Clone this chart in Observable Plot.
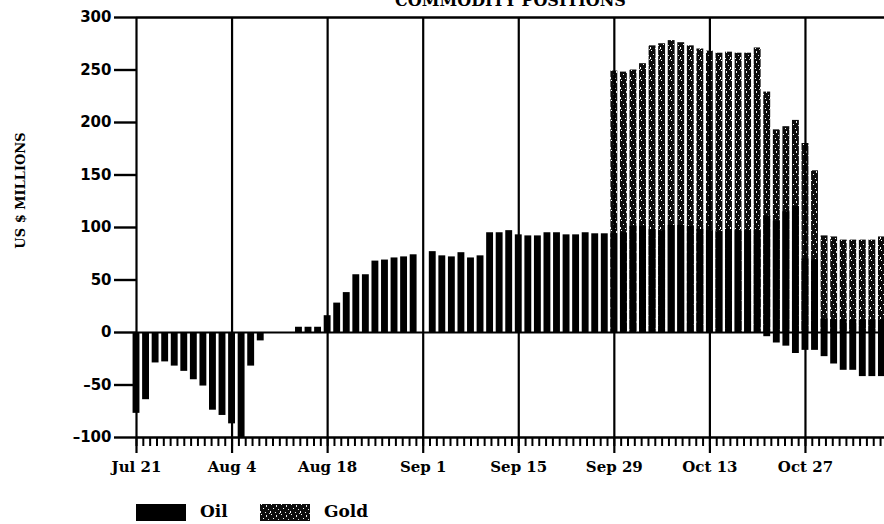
<!DOCTYPE html>
<html>
<head>
<meta charset="utf-8">
<script src="https://cdn.jsdelivr.net/npm/d3@7"></script>
<script src="https://cdn.jsdelivr.net/npm/@observablehq/plot@0.6"></script>
<style>
  html, body { margin: 0; padding: 0; background: #fff; }
  #chart { position: relative; width: 884px; }
  .legend { position: relative; height: 34px; width: 884px; font-family: "DejaVu Serif", serif; font-weight: bold; font-size: 17px; color: #000; }
  .legend .sw { position: absolute; top: 14px; height: 17px; width: 50px; }
  .legend .lab { position: absolute; top: 11px; line-height: 20px; }
</style>
</head>
<body>
<svg width="0" height="0" style="position:absolute">
  <defs>
    <pattern id="stipple" patternUnits="userSpaceOnUse" width="10" height="10">
      <rect width="10" height="10" fill="#0d0d0d"/>
      <rect x="1" y="0" width="1" height="1" fill="#fff"/>
      <rect x="6" y="1" width="1" height="2" fill="#eee"/>
      <rect x="3" y="4" width="1" height="1" fill="#fff"/>
      <rect x="8" y="5" width="1" height="1" fill="#ddd"/>
      <rect x="0" y="7" width="1" height="2" fill="#fff"/>
      <rect x="5" y="8" width="1" height="1" fill="#eee"/>
      <rect x="9" y="9" width="1" height="1" fill="#ccc"/>
    </pattern>
  </defs>
</svg>
<div id="chart"></div>
<script>
// Trading-day index 0 = Jul 21; one bar per trading day (null = no trading, Sep 1 holiday)
const oil = [
  -77, -64, -29, -28, -32, -37, -45, -51, -74, -79,
  -87, -100, -32, -8, 0, 0, 0, 5, 5, 5,
  16, 28, 38, 55, 55, 68, 69, 71, 72, 74,
  null, 77, 73, 72, 76, 71, 73, 95, 95, 97,
  93, 92, 92, 95, 95, 93, 93, 95, 94, 94,
  94, 95, 101, 101, 98, 97, 102, 102, 101, 98,
  97, 96, 98, 97, 97, 97, -4, -10, -13, -20,
  -17, -17, -23, -30, -36, -36, -42, -42, -42
];
const gold = [
  null, null, null, null, null, null, null, null, null, null,
  null, null, null, null, null, null, null, null, null, null,
  null, null, null, null, null, null, null, null, null, null,
  null, null, null, null, null, null, null, null, null, null,
  null, null, null, null, null, null, null, null, null, null,
  249, 248, 250, 256, 273, 275, 278, 276, 273, 270,
  268, 266, 267, 266, 266, 271, 229, 193, 196, 202,
  180, 154, 92, 91, 88, 88, 88, 88, 91
];
// dark (solid) lower part of the gold bars, late October
const goldDarkIdx = [66, 67, 68, 69, 70, 71, 72, 73, 74, 75, 76, 77, 78];
const goldDark    = [111, 106, 115, 120, 70, 69, 13, 12, 12, 12, 12, 12, 12];

const tickLabels = ["Jul 21", "Aug 4", "Aug 18", "Sep 1", "Sep 15", "Sep 29", "Oct 13", "Oct 27"];
const majorTicks = tickLabels.map((_, k) => k * 10);          // every 10 trading days (2 weeks)
const minorTicks = d3.range(0, 78.3, 10 / 14);                // one tick per calendar day
const yTicks = [-100, -50, 0, 50, 100, 150, 200, 250, 300];

const rows = oil.map((v, i) => ({i, oil: v, gold: gold[i]}));
const darkRows = goldDarkIdx.map((i, k) => ({i, v: goldDark[k]}));
const hw = 0.36;

const serif = "DejaVu Serif, serif";
const sans = "DejaVu Sans, sans-serif";

const chart = Plot.plot({
  width: 884,
  height: 490,
  marginLeft: 136,
  marginRight: 0,
  marginTop: 17,
  marginBottom: 53,
  style: {background: "#fff", color: "#000", overflow: "visible"},
  x: {domain: [0, 78.27], axis: null},
  y: {domain: [-100, 300], axis: null},
  marks: [
    Plot.rect(rows.filter(d => d.gold != null), {x1: d => d.i - hw, x2: d => d.i + hw, y1: 0, y2: "gold", fill: "url(#stipple)"}),
    Plot.rect(darkRows, {x1: d => d.i - hw, x2: d => d.i + hw, y1: 0, y2: "v", fill: "#000"}),
    Plot.rect(rows.filter(d => d.oil != null && d.oil !== 0), {x1: d => d.i - hw, x2: d => d.i + hw, y1: 0, y2: "oil", fill: "#000"}),
    Plot.ruleX(majorTicks, {stroke: "#000", strokeWidth: 2.2}),
    Plot.ruleY([0], {stroke: "#000", strokeWidth: 2.2}),
    Plot.ruleY([300, -100], {stroke: "#000", strokeWidth: 2.6}),
    Plot.axisY({ticks: yTicks, tickSize: 22, tickPadding: 3, strokeWidth: 2.4,
      tickFormat: d => d < 0 ? "\u2013" + Math.abs(d) : String(d),
      fontFamily: sans, fontWeight: "bold", fontSize: 15, label: null}),
    Plot.axisX({ticks: minorTicks, tickSize: 9, strokeWidth: 2, tickFormat: () => "", label: null}),
    Plot.axisX({ticks: majorTicks, tickSize: 16, tickPadding: 8, strokeWidth: 2.2,
      tickFormat: d => tickLabels[Math.round(d / 10)],
      fontFamily: serif, fontWeight: "bold", fontSize: 15, label: null}),
    Plot.text(["COMMODITY POSITIONS"], {text: d => d, frameAnchor: "top", lineAnchor: "bottom", dy: -12,
      fontFamily: serif, fontWeight: "bold", fontSize: 16}),
    Plot.text(["US $ MILLIONS"], {text: d => d, frameAnchor: "left", textAnchor: "middle", rotate: -90, dx: -116, dy: -37,
      fontFamily: serif, fontWeight: "bold", fontSize: 13})
  ]
});
document.getElementById("chart").appendChild(chart);

const legend = document.createElement("div");
legend.className = "legend";
legend.innerHTML =
  '<div class="sw" style="left:136px;background:#000"></div><div class="lab" style="left:200px">Oil</div>' +
  '<svg class="sw" style="left:260px" width="50" height="17"><rect width="50" height="17" fill="url(#stipple)"/></svg><div class="lab" style="left:324px">Gold</div>';
document.getElementById("chart").appendChild(legend);
</script>
</body>
</html>
